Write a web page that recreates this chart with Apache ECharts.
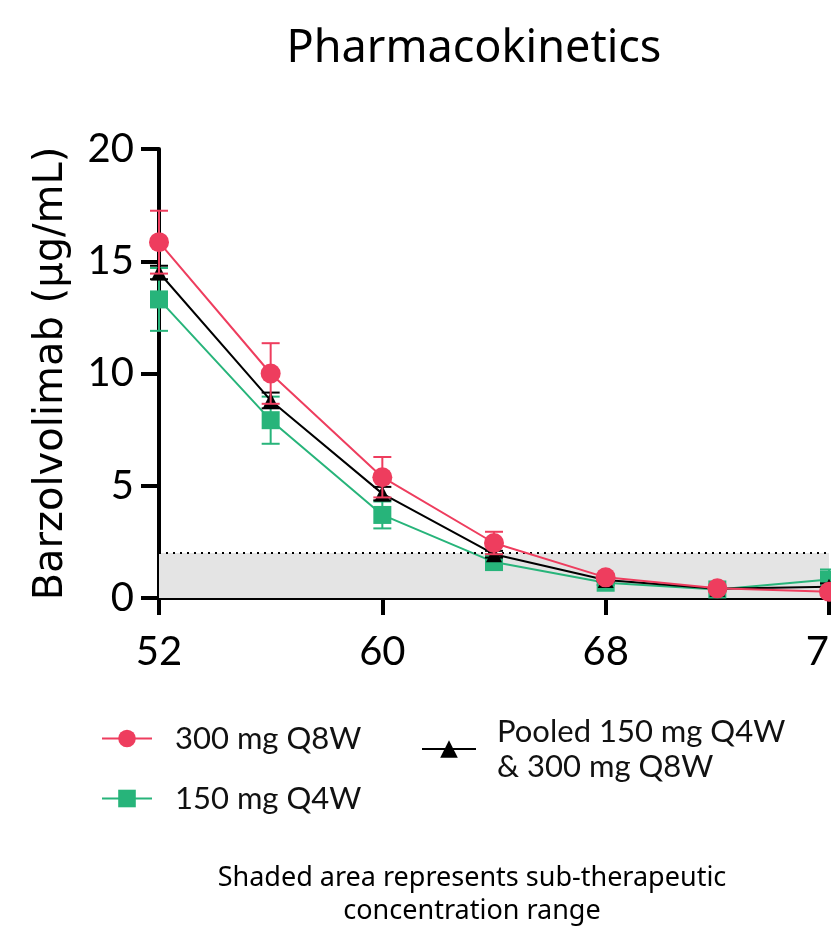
<!DOCTYPE html>
<html>
<head>
<meta charset="utf-8">
<script src="https://cdn.jsdelivr.net/npm/echarts@6/dist/echarts.min.js"></script>
<style>
html,body{margin:0;padding:0;background:#fff;}
#main{width:831px;height:927px;}
</style>
</head>
<body>
<div id="main"></div>
<script>
// Weeks (x categories)
const weeks = ['52', '56', '60', '64', '68', '72', '76'];
// Y tick labels
const yTicks = [0, 5, 10, 15, 20];
// Series names
const nameRed = '300 mg Q8W';
const nameGreen = '150 mg Q4W';
const namePooled = 'Pooled 150 mg Q4W & 300 mg Q8W';
// Mean concentrations (µg/mL)
const red = [15.85, 10.0, 5.38, 2.45, 0.92, 0.43, 0.28];
const green = [13.3, 7.92, 3.7, 1.6, 0.68, 0.38, 0.82];
const pooled = [14.5, 8.8, 4.65, 1.95, 0.8, 0.41, 0.5];
// Error values (±)
const redErr = [1.4, 1.35, 0.9, 0.5, 0.12, 0.08, 0.1];
const greenErr = [1.4, 1.05, 0.6, 0.2, 0.1, 0.08, 0.45];
const pooledErr = [0.3, 0.35, 0.3, 0.15, 0.06, 0.05, 0.15];
// Sub-therapeutic threshold
const threshold = 2;

const RED = '#EE3D5E';
const GREEN = '#27B47A';
const BLACK = '#000000';
const FONT = 'Lato';

function errData(mean, err) {
  return weeks.map((w, i) => [i, mean[i] - err[i], mean[i] + err[i]]);
}
function errSeries(mean, err, color, z) {
  return {
    type: 'custom',
    z: z,
    silent: true,
    data: errData(mean, err),
    renderItem: function (params, api) {
      const x = api.value(0);
      const lo = api.coord([x, api.value(1)]);
      const hi = api.coord([x, api.value(2)]);
      const hw = 9;
      const st = { stroke: color, lineWidth: 2 };
      return {
        type: 'group',
        children: [
          { type: 'line', shape: { x1: lo[0], y1: lo[1], x2: hi[0], y2: hi[1] }, style: st },
          { type: 'line', shape: { x1: lo[0] - hw, y1: lo[1], x2: lo[0] + hw, y2: lo[1] }, style: st },
          { type: 'line', shape: { x1: hi[0] - hw, y1: hi[1], x2: hi[0] + hw, y2: hi[1] }, style: st }
        ]
      };
    }
  };
}

const chart = echarts.init(document.getElementById('main'), null, { renderer: 'canvas' });
const legendText = { fontFamily: FONT, fontSize: 31, color: '#111', padding: [0, 0, 0, 18] };
chart.setOption({
  backgroundColor: '#fff',
  animation: false,
  title: {
    text: 'Pharmacokinetics',
    left: 469,
    textAlign: 'center',
    top: 22,
    textStyle: { fontFamily: 'Noto Sans', fontSize: 45, fontWeight: 'normal', color: '#000' }
  },
  legend: [
    {
      data: [nameRed], left: 96, top: 718, orient: 'vertical',
      itemWidth: 50, itemHeight: 22, textStyle: legendText
    },
    {
      data: [nameGreen], left: 96, top: 778, orient: 'vertical',
      itemWidth: 50, itemHeight: 22, textStyle: legendText
    },
    {
      data: [namePooled], left: 416, top: 709, orient: 'vertical',
      itemWidth: 54, itemHeight: 22,
      formatter: function () { return 'Pooled 150 mg Q4W\n& 300 mg Q8W'; },
      textStyle: Object.assign({}, legendText, { lineHeight: 35, padding: [0, 0, 0, 16] })
    }
  ],
  grid: { left: 159, right: 2, top: 149, bottom: 329, containLabel: false, outerBoundsMode: 'none' },
  xAxis: {
    type: 'category',
    data: weeks,
    boundaryGap: false,
    axisLine: { lineStyle: { color: '#000', width: 4 } },
    axisTick: { interval: 1, length: 17, lineStyle: { color: '#000', width: 4 } },
    axisLabel: { interval: 1, margin: 34, fontFamily: FONT, fontSize: 40, color: '#000', hideOverlap: false },
    splitLine: { show: false }
  },
  yAxis: {
    type: 'value',
    min: yTicks[0],
    max: yTicks[yTicks.length - 1],
    interval: yTicks[1] - yTicks[0],
    name: 'Barzolvolimab (µg/mL)',
    nameLocation: 'middle',
    nameGap: 87,
    nameRotate: 90,
    nameTextStyle: { fontFamily: 'DejaVu Sans', fontSize: 40, color: '#000' },
    axisLine: { show: true, lineStyle: { color: '#000', width: 4 } },
    axisTick: { show: true, length: 18, lineStyle: { color: '#000', width: 4 } },
    axisLabel: { margin: 25, fontFamily: FONT, fontSize: 40, color: '#000' },
    splitLine: { show: false }
  },
  series: [
    {
      type: 'line',
      name: '__shade',
      data: [],
      silent: true,
      markArea: {
        silent: true,
        itemStyle: { color: '#E4E4E4' },
        data: [[{ xAxis: weeks[0], yAxis: 0 }, { xAxis: weeks[weeks.length - 1], yAxis: threshold }]]
      },
      markLine: {
        silent: true,
        symbol: ['none', 'none'],
        label: { show: false },
        lineStyle: { color: '#000', width: 2, type: [2, 5] },
        data: [{ yAxis: threshold }]
      },
      z: 1
    },
    errSeries(green, greenErr, GREEN, 3),
    {
      type: 'line', name: nameGreen, data: green,
      symbol: 'rect', symbolSize: 18,
      lineStyle: { color: GREEN, width: 2 },
      itemStyle: { color: GREEN },
      z: 4
    },
    errSeries(pooled, pooledErr, BLACK, 5),
    {
      type: 'line', name: namePooled, data: pooled,
      symbol: 'triangle', symbolSize: 16,
      lineStyle: { color: BLACK, width: 2 },
      itemStyle: { color: BLACK },
      z: 6
    },
    errSeries(red, redErr, RED, 7),
    {
      type: 'line', name: nameRed, data: red,
      symbol: 'circle', symbolSize: 20,
      lineStyle: { color: RED, width: 2 },
      itemStyle: { color: RED },
      z: 8
    }
  ],
  graphic: [
    {
      type: 'text',
      style: {
        text: 'Shaded area represents sub-therapeutic\nconcentration range',
        x: 472,
        y: 862,
        align: 'center',
        verticalAlign: 'top',
        fontFamily: 'Noto Sans',
        fontSize: 27,
        lineHeight: 33,
        fill: '#000'
      }
    }
  ]
});
</script>
</body>
</html>
